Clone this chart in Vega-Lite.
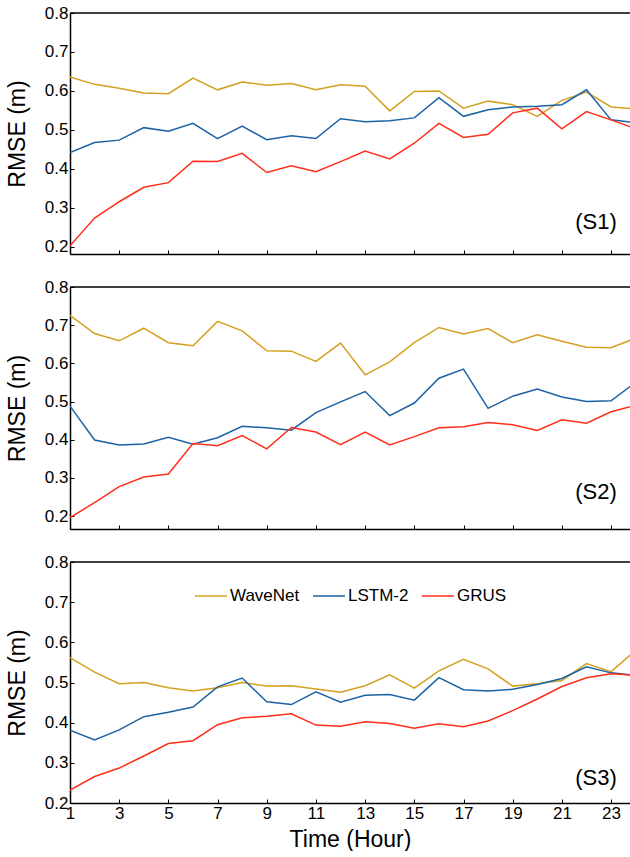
{
  "$schema": "https://vega.github.io/schema/vega-lite/v6.json",
  "padding": {"left": 6, "top": 4, "right": 0, "bottom": 0},
  "bounds": "flush",
  "spacing": 33,
  "datasets": {
    "panels": [
      {"panel": "S1", "label": "(S1)"},
      {"panel": "S2", "label": "(S2)"},
      {"panel": "S3", "label": "(S3)"}
    ],
    "s1": [
      {"h": 1, "WaveNet": 0.636, "LSTM-2": 0.442, "GRUS": 0.203},
      {"h": 2, "WaveNet": 0.617, "LSTM-2": 0.468, "GRUS": 0.274},
      {"h": 3, "WaveNet": 0.607, "LSTM-2": 0.474, "GRUS": 0.316},
      {"h": 4, "WaveNet": 0.595, "LSTM-2": 0.506, "GRUS": 0.353},
      {"h": 5, "WaveNet": 0.593, "LSTM-2": 0.497, "GRUS": 0.365},
      {"h": 6, "WaveNet": 0.633, "LSTM-2": 0.517, "GRUS": 0.420},
      {"h": 7, "WaveNet": 0.603, "LSTM-2": 0.478, "GRUS": 0.419},
      {"h": 8, "WaveNet": 0.623, "LSTM-2": 0.510, "GRUS": 0.440},
      {"h": 9, "WaveNet": 0.615, "LSTM-2": 0.475, "GRUS": 0.391},
      {"h": 10, "WaveNet": 0.619, "LSTM-2": 0.485, "GRUS": 0.408},
      {"h": 11, "WaveNet": 0.603, "LSTM-2": 0.478, "GRUS": 0.393},
      {"h": 12, "WaveNet": 0.616, "LSTM-2": 0.529, "GRUS": 0.419},
      {"h": 13, "WaveNet": 0.612, "LSTM-2": 0.521, "GRUS": 0.446},
      {"h": 14, "WaveNet": 0.549, "LSTM-2": 0.524, "GRUS": 0.426},
      {"h": 15, "WaveNet": 0.599, "LSTM-2": 0.531, "GRUS": 0.466},
      {"h": 16, "WaveNet": 0.600, "LSTM-2": 0.583, "GRUS": 0.517},
      {"h": 17, "WaveNet": 0.556, "LSTM-2": 0.535, "GRUS": 0.481},
      {"h": 18, "WaveNet": 0.574, "LSTM-2": 0.552, "GRUS": 0.489},
      {"h": 19, "WaveNet": 0.565, "LSTM-2": 0.559, "GRUS": 0.544},
      {"h": 20, "WaveNet": 0.535, "LSTM-2": 0.561, "GRUS": 0.556},
      {"h": 21, "WaveNet": 0.576, "LSTM-2": 0.565, "GRUS": 0.503},
      {"h": 22, "WaveNet": 0.597, "LSTM-2": 0.603, "GRUS": 0.547},
      {"h": 23, "WaveNet": 0.559, "LSTM-2": 0.526, "GRUS": 0.526},
      {"h": 24, "WaveNet": 0.554, "LSTM-2": 0.519, "GRUS": 0.503}
    ],
    "s2": [
      {"h": 1, "WaveNet": 0.726, "LSTM-2": 0.488, "GRUS": 0.196},
      {"h": 2, "WaveNet": 0.678, "LSTM-2": 0.399, "GRUS": 0.235},
      {"h": 3, "WaveNet": 0.659, "LSTM-2": 0.386, "GRUS": 0.277},
      {"h": 4, "WaveNet": 0.692, "LSTM-2": 0.389, "GRUS": 0.302},
      {"h": 5, "WaveNet": 0.654, "LSTM-2": 0.406, "GRUS": 0.310},
      {"h": 6, "WaveNet": 0.646, "LSTM-2": 0.388, "GRUS": 0.390},
      {"h": 7, "WaveNet": 0.710, "LSTM-2": 0.405, "GRUS": 0.384},
      {"h": 8, "WaveNet": 0.685, "LSTM-2": 0.435, "GRUS": 0.411},
      {"h": 9, "WaveNet": 0.633, "LSTM-2": 0.431, "GRUS": 0.376},
      {"h": 10, "WaveNet": 0.632, "LSTM-2": 0.425, "GRUS": 0.432},
      {"h": 11, "WaveNet": 0.605, "LSTM-2": 0.471, "GRUS": 0.420},
      {"h": 12, "WaveNet": 0.653, "LSTM-2": 0.499, "GRUS": 0.387},
      {"h": 13, "WaveNet": 0.570, "LSTM-2": 0.526, "GRUS": 0.420},
      {"h": 14, "WaveNet": 0.604, "LSTM-2": 0.463, "GRUS": 0.386},
      {"h": 15, "WaveNet": 0.654, "LSTM-2": 0.496, "GRUS": 0.408},
      {"h": 16, "WaveNet": 0.694, "LSTM-2": 0.561, "GRUS": 0.431},
      {"h": 17, "WaveNet": 0.677, "LSTM-2": 0.585, "GRUS": 0.434},
      {"h": 18, "WaveNet": 0.691, "LSTM-2": 0.482, "GRUS": 0.445},
      {"h": 19, "WaveNet": 0.654, "LSTM-2": 0.514, "GRUS": 0.439},
      {"h": 20, "WaveNet": 0.675, "LSTM-2": 0.533, "GRUS": 0.424},
      {"h": 21, "WaveNet": 0.658, "LSTM-2": 0.512, "GRUS": 0.452},
      {"h": 22, "WaveNet": 0.642, "LSTM-2": 0.500, "GRUS": 0.443},
      {"h": 23, "WaveNet": 0.641, "LSTM-2": 0.502, "GRUS": 0.473},
      {"h": 24, "WaveNet": 0.666, "LSTM-2": 0.550, "GRUS": 0.490}
    ],
    "s3": [
      {"h": 1, "WaveNet": 0.562, "LSTM-2": 0.381, "GRUS": 0.232},
      {"h": 2, "WaveNet": 0.526, "LSTM-2": 0.357, "GRUS": 0.266},
      {"h": 3, "WaveNet": 0.497, "LSTM-2": 0.382, "GRUS": 0.287},
      {"h": 4, "WaveNet": 0.500, "LSTM-2": 0.415, "GRUS": 0.317},
      {"h": 5, "WaveNet": 0.487, "LSTM-2": 0.426, "GRUS": 0.348},
      {"h": 6, "WaveNet": 0.479, "LSTM-2": 0.439, "GRUS": 0.355},
      {"h": 7, "WaveNet": 0.487, "LSTM-2": 0.489, "GRUS": 0.395},
      {"h": 8, "WaveNet": 0.500, "LSTM-2": 0.511, "GRUS": 0.412},
      {"h": 9, "WaveNet": 0.491, "LSTM-2": 0.452, "GRUS": 0.416},
      {"h": 10, "WaveNet": 0.492, "LSTM-2": 0.445, "GRUS": 0.422},
      {"h": 11, "WaveNet": 0.484, "LSTM-2": 0.477, "GRUS": 0.394},
      {"h": 12, "WaveNet": 0.476, "LSTM-2": 0.451, "GRUS": 0.391},
      {"h": 13, "WaveNet": 0.492, "LSTM-2": 0.468, "GRUS": 0.402},
      {"h": 14, "WaveNet": 0.519, "LSTM-2": 0.470, "GRUS": 0.398},
      {"h": 15, "WaveNet": 0.486, "LSTM-2": 0.456, "GRUS": 0.386},
      {"h": 16, "WaveNet": 0.529, "LSTM-2": 0.512, "GRUS": 0.397},
      {"h": 17, "WaveNet": 0.558, "LSTM-2": 0.482, "GRUS": 0.390},
      {"h": 18, "WaveNet": 0.534, "LSTM-2": 0.479, "GRUS": 0.404},
      {"h": 19, "WaveNet": 0.491, "LSTM-2": 0.483, "GRUS": 0.430},
      {"h": 20, "WaveNet": 0.497, "LSTM-2": 0.495, "GRUS": 0.459},
      {"h": 21, "WaveNet": 0.505, "LSTM-2": 0.510, "GRUS": 0.490},
      {"h": 22, "WaveNet": 0.547, "LSTM-2": 0.539, "GRUS": 0.512},
      {"h": 23, "WaveNet": 0.527, "LSTM-2": 0.524, "GRUS": 0.522},
      {"h": 24, "WaveNet": 0.580, "LSTM-2": 0.518, "GRUS": 0.518}
    ]
  },
  "resolve": {"scale": {"y": "independent"}, "legend": {"color": "independent"}},
  "vconcat": [
    {
      "width": 560, "height": 241,
      "layer": [
        {
          "data": {"name": "s1"},
          "transform": [{"fold": ["WaveNet", "LSTM-2", "GRUS"], "as": ["model", "rmse"]}],
          "mark": {"type": "line", "strokeWidth": 1.5, "clip": true},
          "encoding": {
            "x": {"field": "h", "type": "quantitative", "scale": {"domain": [1, 23.77], "nice": false, "zero": false},
                  "axis": {"values": [1, 3, 5, 7, 9, 11, 13, 15, 17, 19, 21, 23], "labels": false, "title": null}},
            "y": {"field": "rmse", "type": "quantitative", "scale": {"domain": [0.182, 0.8], "nice": false, "zero": false},
                  "axis": {"values": [0.2, 0.3, 0.4, 0.5, 0.6, 0.7, 0.8], "format": ".1f", "title": "RMSE (m)"}},
            "color": {"field": "model", "type": "nominal", "scale": {"domain": ["WaveNet", "LSTM-2", "GRUS"], "range": ["#D4A020", "#1B62A5", "#FF2D1A"]}, "legend": null}
          }
        },
        {
          "data": {"name": "panels"},
          "transform": [{"filter": "datum.panel === 'S1'"}],
          "mark": {"type": "rule", "color": "black", "strokeWidth": 1.5},
          "encoding": {"y": {"datum": 0.8}}
        },
        {
          "data": {"name": "panels"},
          "transform": [{"filter": "datum.panel === 'S1'"}],
          "mark": {"type": "text", "fontSize": 22, "color": "black"},
          "encoding": {"x": {"datum": 22.39}, "y": {"datum": 0.264}, "text": {"field": "label"}}
        }
      ]
    },
    {
      "width": 560, "height": 242,
      "layer": [
        {
          "data": {"name": "s2"},
          "transform": [{"fold": ["WaveNet", "LSTM-2", "GRUS"], "as": ["model", "rmse"]}],
          "mark": {"type": "line", "strokeWidth": 1.5, "clip": true},
          "encoding": {
            "x": {"field": "h", "type": "quantitative", "scale": {"domain": [1, 23.77], "nice": false, "zero": false},
                  "axis": {"values": [1, 3, 5, 7, 9, 11, 13, 15, 17, 19, 21, 23], "labels": false, "title": null}},
            "y": {"field": "rmse", "type": "quantitative", "scale": {"domain": [0.166, 0.8], "nice": false, "zero": false},
                  "axis": {"values": [0.2, 0.3, 0.4, 0.5, 0.6, 0.7, 0.8], "format": ".1f", "title": "RMSE (m)"}},
            "color": {"field": "model", "type": "nominal", "scale": {"domain": ["WaveNet", "LSTM-2", "GRUS"], "range": ["#D4A020", "#1B62A5", "#FF2D1A"]}, "legend": null}
          }
        },
        {
          "data": {"name": "panels"},
          "transform": [{"filter": "datum.panel === 'S2'"}],
          "mark": {"type": "rule", "color": "black", "strokeWidth": 1.5},
          "encoding": {"y": {"datum": 0.8}}
        },
        {
          "data": {"name": "panels"},
          "transform": [{"filter": "datum.panel === 'S2'"}],
          "mark": {"type": "text", "fontSize": 22, "color": "black"},
          "encoding": {"x": {"datum": 22.39}, "y": {"datum": 0.263}, "text": {"field": "label"}}
        }
      ]
    },
    {
      "width": 560, "height": 241,
      "layer": [
        {
          "data": {"name": "s3"},
          "transform": [{"fold": ["WaveNet", "LSTM-2", "GRUS"], "as": ["model", "rmse"]}],
          "mark": {"type": "line", "strokeWidth": 1.5, "clip": true},
          "encoding": {
            "x": {"field": "h", "type": "quantitative", "scale": {"domain": [1, 23.77], "nice": false, "zero": false},
                  "axis": {"values": [1, 3, 5, 7, 9, 11, 13, 15, 17, 19, 21, 23], "title": "Time (Hour)"}},
            "y": {"field": "rmse", "type": "quantitative", "scale": {"domain": [0.2, 0.8], "nice": false, "zero": false},
                  "axis": {"values": [0.2, 0.3, 0.4, 0.5, 0.6, 0.7, 0.8], "format": ".1f", "title": "RMSE (m)"}},
            "color": {"field": "model", "type": "nominal", "scale": {"domain": ["WaveNet", "LSTM-2", "GRUS"], "range": ["#D4A020", "#1B62A5", "#FF2D1A"]},
                      "legend": {"orient": "none", "legendX": 124, "legendY": 17, "direction": "horizontal", "title": null,
                                 "symbolType": "stroke", "symbolSize": 1024, "symbolStrokeWidth": 1.5,
                                 "labelFontSize": 17, "labelOffset": 2, "columnPadding": 10, "labelColor": "black", "labelFont": "Liberation Sans"}}
          }
        },
        {
          "data": {"name": "panels"},
          "transform": [{"filter": "datum.panel === 'S3'"}],
          "mark": {"type": "rule", "color": "black", "strokeWidth": 1.5},
          "encoding": {"y": {"datum": 0.8}}
        },
        {
          "data": {"name": "panels"},
          "transform": [{"filter": "datum.panel === 'S3'"}],
          "mark": {"type": "text", "fontSize": 22, "color": "black"},
          "encoding": {"x": {"datum": 22.39}, "y": {"datum": 0.261}, "text": {"field": "label"}}
        }
      ]
    }
  ],
  "config": {
    "font": "Liberation Sans",
    "view": {"stroke": null},
    "axis": {
      "grid": false,
      "domainColor": "black", "domainWidth": 1.5,
      "tickColor": "black", "tickWidth": 1, "tickSize": -4,
      "labelColor": "black", "labelFont": "Liberation Sans", "labelFontSize": 17, "labelPadding": 6,
      "labelFlush": false, "labelOverlap": false,
      "titleColor": "black", "titleFont": "Liberation Sans", "titleFontSize": 23, "titleFontWeight": "normal"
    },
    "axisX": {"titlePadding": 7},
    "axisY": {"titlePadding": 15}
  }
}
